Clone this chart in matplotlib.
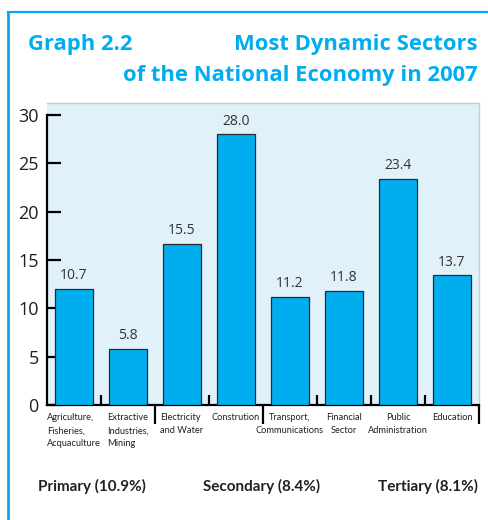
"""
Graph 2.2 - most dynamic sectors of the national economy in 2007
"""

import matplotlib as mpl
mpl.use('Agg')
import matplotlib.pyplot as plt
from matplotlib.lines import Line2D
from matplotlib.transforms import blended_transform_factory

# data
sectors = ["Agriculture,\nFisheries,\nAcquaculture", "Extractive\nIndustries,\nMining",
           "Electricity\nand Water", "Constrution", "Transport,\nCommunications",
           "Financial\nSector", "Public\nAdministration", "Education"]
sector_align = ["left", "left", "left", "center", "center", "center", "center", "center"]
bar_heights = [12.0, 5.8, 16.7, 28.0, 11.2, 11.8, 23.4, 13.4]
value_labels = ["10.7", "5.8", "15.5", "28.0", "11.2", "11.8", "23.4", "13.7"]
group_labels = ["Primary (10.9%)", "Secondary (8.4%)", "Tertiary (8.1%)"]
y_ticks = [0, 5, 10, 15, 20, 25, 30]

# colours
cyan = "#00AEEF"
panel = "#E0F1FA"
dark = "#231F20"

main_font = ["Open Sans", "DejaVu Sans"]
narrow_font = ["Lato", "DejaVu Sans"]
mpl.rcParams['font.family'] = main_font

fig = plt.figure(figsize=(4.88, 5.20), dpi=100, facecolor='w')
W, H = 488.0, 520.0

# outer frame
fig.add_artist(Line2D([8 / W, 1.0], [1 - 12 / H, 1 - 12 / H], color=cyan, lw=1.6))
fig.add_artist(Line2D([8 / W, 8 / W], [0.0, 1 - 12 / H], color=cyan, lw=2.0))

# titles
fig.text(28 / W, 1 - 50 / H, "Graph 2.2", color=cyan, fontsize=15.8, fontweight='bold',
         ha='left', va='baseline')
fig.text(478 / W, 1 - 50 / H, "Most Dynamic Sectors", color=cyan, fontsize=15.8,
         fontweight='bold', ha='right', va='baseline')
fig.text(478 / W, 1 - 81 / H, "of the National Economy in 2007", color=cyan, fontsize=15.8,
         fontweight='bold', ha='right', va='baseline')

# axes
ax = fig.add_axes([47 / W, 115 / H, 432 / W, 302 / H])
ax.set_facecolor(panel)
x = list(range(len(bar_heights)))
ax.bar(x, bar_heights, width=0.72, color=cyan, edgecolor="#2A2A2A", linewidth=0.9, zorder=3)
ax.set_xlim(-0.5, len(x) - 0.5)
ax.set_ylim(0, 30 * 302 / 290.0)

for xi, h, lab in zip(x, bar_heights, value_labels):
    ax.annotate(lab, (xi, h), xytext=(0, 4), textcoords='offset points', ha='center',
                va='bottom', fontsize=10, color="#333333")

for side in ['top', 'right']:
    ax.spines[side].set_color("#C9CDD0")
    ax.spines[side].set_linewidth(1.0)
ax.spines['left'].set_bounds(0, 30)
ax.spines['left'].set_linewidth(1.6)
ax.spines['bottom'].set_linewidth(1.6)

ax.set_yticks(y_ticks)
ax.tick_params(axis='y', direction='in', length=10, width=1.6, pad=6, labelsize=13,
               labelcolor=dark)

# group separators below the axis, small ticks between bars
ax.set_xticks([1.5, 3.5, 7.5])
ax.set_xticklabels([])
ax.tick_params(axis='x', which='major', direction='out', length=14, width=1.6)
ax.set_xticks([i + 0.5 for i in x], minor=True)
ax.tick_params(axis='x', which='minor', direction='in', length=7, width=1.6)

trans = blended_transform_factory(ax.transData, ax.transAxes)
for xi, name, al in zip(x, sectors, sector_align):
    ax.text(xi, -0.028, name, transform=trans, ha='center', va='top', multialignment=al,
            fontsize=6.7, color=dark, linespacing=1.55, family=narrow_font)

# sector group labels
fig.text(38 / W, 1 - 486 / H, group_labels[0], ha='left', va='center', fontsize=11,
         fontweight='bold', color=dark, family=narrow_font)
fig.text(262 / W, 1 - 486 / H, group_labels[1], ha='center', va='center', fontsize=11,
         fontweight='bold', color=dark, family=narrow_font)
fig.text(478 / W, 1 - 486 / H, group_labels[2], ha='right', va='center', fontsize=11,
         fontweight='bold', color=dark, family=narrow_font)

plt.savefig("out.png", dpi=100)
